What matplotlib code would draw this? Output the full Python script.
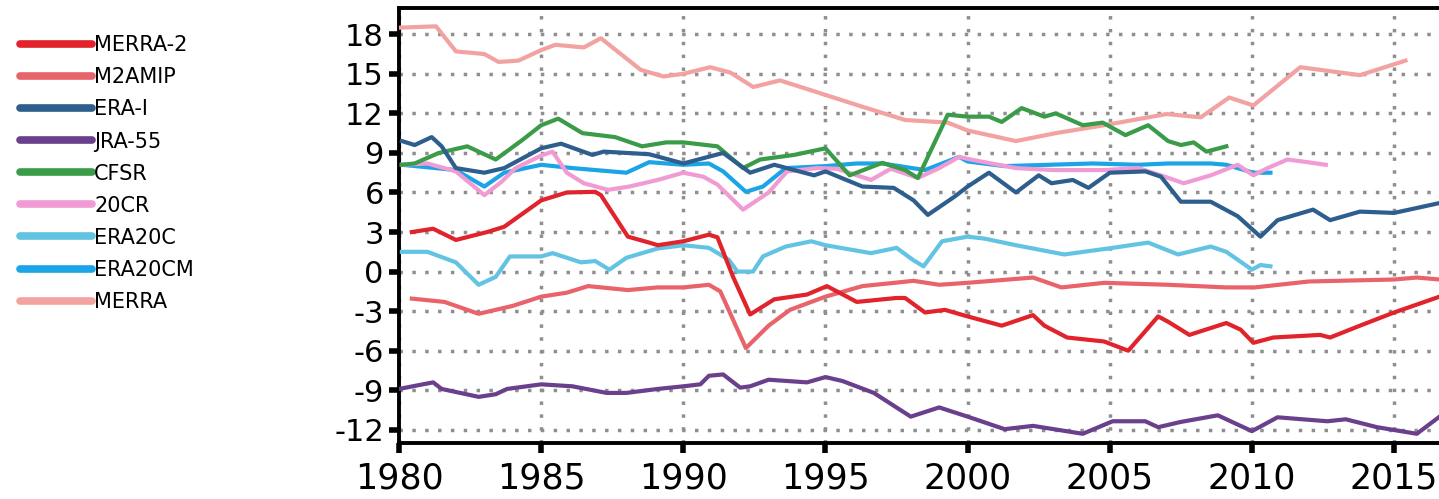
import matplotlib
matplotlib.use("Agg")
import matplotlib.pyplot as plt
from matplotlib.lines import Line2D

# ---------------- data ----------------
merra2_x = [1980.45, 1981.2, 1982.0, 1983.1, 1983.7, 1985.0, 1985.9, 1986.9, 1987.1, 1988.05, 1988.8, 1989.1, 1990.0,
            1990.9, 1991.2, 1991.75, 1992.35, 1993.2, 1994.35, 1995.05, 1996.1, 1997.5, 1997.8, 1998.5, 1999.2, 2000.0,
            2001.2, 2002.3, 2002.7, 2003.5, 2004.8, 2005.65, 2006.7, 2007.05, 2007.8, 2009.1, 2009.6, 2010.05, 2010.75,
            2012.4, 2012.75, 2013.8, 2015.0, 2016.6]
merra2_y = [3.0, 3.25, 2.4, 3.0, 3.4, 5.4, 6.0, 6.05, 5.8, 2.65, 2.2, 2.0, 2.3,
            2.8, 2.6, -0.4, -3.25, -2.1, -1.74, -1.1, -2.3, -2.0, -2.0, -3.1, -2.9, -3.4,
            -4.1, -3.3, -4.1, -5.0, -5.3, -6.0, -3.4, -3.8, -4.8, -3.9, -4.4, -5.4, -5.0,
            -4.8, -5.0, -4.1, -3.1, -1.9]

m2amip_x = [1980.45, 1981.6, 1982.8, 1984.0, 1985.0, 1985.9, 1986.65, 1988.05, 1989.1, 1990.0, 1990.9, 1991.3,
            1992.2, 1993.0, 1993.75, 1995.0, 1996.3, 1998.1, 1999.0, 2000.0, 2002.3, 2003.3, 2004.8, 2007.05,
            2009.1, 2010.1, 2012.0, 2015.0, 2015.8, 2016.6]
m2amip_y = [-2.05, -2.3, -3.2, -2.6, -1.9, -1.6, -1.1, -1.4, -1.2, -1.2, -1.0, -1.5,
            -5.8, -4.1, -2.9, -1.9, -1.1, -0.7, -1.0, -0.85, -0.45, -1.2, -0.85, -1.0,
            -1.2, -1.2, -0.75, -0.6, -0.45, -0.6]

erai_x = [1980.1, 1980.55, 1981.15, 1981.5, 1982.0, 1983.0, 1983.7, 1985.0, 1985.7, 1986.8, 1987.2, 1988.0, 1988.8,
          1990.0, 1991.4, 1992.35, 1993.2, 1994.6, 1995.0, 1996.3, 1997.4, 1998.1, 1998.6, 1999.55, 2000.0,
          2000.75, 2001.7, 2002.5, 2002.95, 2003.7, 2004.25, 2005.0, 2006.25, 2006.8, 2007.5, 2008.55, 2009.5,
          2010.3, 2010.9, 2012.15, 2012.75, 2013.8, 2015.0, 2016.6]
erai_y = [9.9, 9.6, 10.2, 9.5, 7.85, 7.5, 7.85, 9.35, 9.7, 8.85, 9.1, 9.0, 8.9,
          8.2, 9.0, 7.5, 8.1, 7.3, 7.6, 6.45, 6.35, 5.4, 4.3, 5.7, 6.45,
          7.5, 6.0, 7.3, 6.7, 6.95, 6.35, 7.5, 7.6, 7.2, 5.3, 5.3, 4.2,
          2.65, 3.9, 4.7, 3.9, 4.55, 4.45, 5.2]

jra55_x = [1980.0, 1981.2, 1981.5, 1982.8, 1983.4, 1983.8, 1985.0, 1986.1, 1987.3, 1988.0, 1989.1, 1990.0, 1990.6,
           1990.9, 1991.4, 1992.0, 1992.35, 1993.0, 1994.35, 1995.0, 1995.6, 1996.7, 1998.0, 1999.0, 2000.0,
           2001.3, 2002.3, 2004.05, 2005.1, 2006.25, 2006.7, 2007.5, 2008.8, 2010.0, 2010.9, 2012.65, 2013.3,
           2014.4, 2015.8, 2016.6]
jra55_y = [-8.9, -8.4, -8.9, -9.5, -9.3, -8.9, -8.55, -8.7, -9.2, -9.2, -8.9, -8.7, -8.55,
           -7.9, -7.8, -8.8, -8.7, -8.2, -8.4, -8.0, -8.3, -9.2, -11.0, -10.3, -11.0,
           -11.95, -11.7, -12.3, -11.35, -11.35, -11.8, -11.4, -10.9, -12.1, -11.05, -11.35, -11.2,
           -11.8, -12.3, -11.0]

cfsr_x = [1980.1, 1980.55, 1981.4, 1982.4, 1983.4, 1984.35, 1985.0, 1985.6, 1986.45, 1987.6, 1988.55, 1989.4,
          1990.0, 1991.2, 1992.1, 1992.7, 1993.9, 1995.0, 1995.85, 1997.0, 1997.8, 1998.25, 1999.3, 2000.0,
          2000.75, 2001.2, 2001.9, 2002.7, 2003.1, 2004.05, 2004.75, 2005.55, 2006.35, 2007.05, 2007.5,
          2007.95, 2008.4, 2009.1]
cfsr_y = [8.1, 8.2, 9.0, 9.5, 8.5, 10.0, 11.1, 11.6, 10.5, 10.2, 9.5, 9.8,
          9.8, 9.5, 7.85, 8.5, 8.85, 9.35, 7.3, 8.25, 7.7, 7.1, 11.9, 11.75,
          11.75, 11.35, 12.4, 11.75, 12.0, 11.1, 11.3, 10.35, 11.1, 9.9, 9.6,
          9.8, 9.1, 9.5]

cr20_x = [1980.1, 1981.0, 1982.0, 1983.0, 1983.6, 1984.1, 1985.0, 1985.4, 1985.9, 1986.5, 1987.35, 1988.1,
          1989.1, 1990.0, 1990.7, 1991.2, 1992.1, 1993.0, 1993.65, 1994.7, 1995.4, 1996.6, 1997.3, 1998.25,
          1999.0, 1999.7, 2000.1, 2001.7, 2003.0, 2004.8, 2006.0, 2006.8, 2007.6, 2008.55, 2009.5, 2010.05,
          2010.55, 2011.25, 2011.95, 2012.6]
cr20_y = [8.1, 8.2, 7.6, 5.8, 6.8, 7.85, 8.8, 9.1, 7.5, 6.7, 6.2, 6.45,
          6.95, 7.5, 7.2, 6.6, 4.7, 6.0, 7.6, 7.85, 7.8, 6.95, 7.8, 7.1,
          7.85, 8.7, 8.5, 7.85, 7.7, 7.7, 7.85, 7.3, 6.7, 7.3, 8.1, 7.3,
          7.85, 8.5, 8.3, 8.1]

era20c_x = [1980.1, 1981.0, 1982.0, 1982.8, 1983.4, 1983.9, 1985.0, 1985.4, 1986.4, 1986.9, 1987.4, 1988.0, 1989.1,
            1990.0, 1990.9, 1991.6, 1991.9, 1992.45, 1992.8, 1993.6, 1994.5, 1995.0, 1996.6, 1997.5, 1998.1,
            1998.45, 1999.1, 2000.0, 2000.6, 2001.7, 2003.4, 2005.1, 2006.35, 2007.4, 2008.55, 2009.1, 2010.0,
            2010.3, 2010.65]
era20c_y = [1.5, 1.5, 0.7, -1.0, -0.4, 1.15, 1.15, 1.4, 0.7, 0.8, 0.15, 1.05, 1.75,
            2.0, 1.8, 0.9, 0.0, 0.0, 1.15, 1.9, 2.3, 2.0, 1.4, 1.8, 0.85,
            0.4, 2.3, 2.65, 2.5, 2.0, 1.3, 1.8, 2.2, 1.3, 1.9, 1.5, 0.15,
            0.5, 0.4]

era20cm_x = [1980.1, 1982.0, 1983.0, 1983.7, 1985.0, 1986.1, 1988.0, 1988.8, 1990.0, 1990.9, 1991.4, 1992.2,
             1992.8, 1993.6, 1995.0, 1996.1, 1997.0, 1998.5, 1999.7, 2000.0, 2001.3, 2002.85, 2004.4, 2006.0,
             2007.05, 2008.55, 2009.1, 2010.05, 2010.65]
era20cm_y = [8.1, 7.7, 6.45, 7.5, 8.1, 7.85, 7.5, 8.3, 8.1, 8.2, 7.6, 6.05,
             6.45, 7.85, 8.0, 8.2, 8.2, 7.7, 8.7, 8.35, 8.0, 8.1, 8.2, 8.1,
             8.2, 8.2, 8.1, 7.5, 7.5]

merra_x = [1980.0, 1981.3, 1982.0, 1983.0, 1983.5, 1984.2, 1985.0, 1985.5, 1986.5, 1987.1, 1987.8, 1988.5,
           1989.3, 1990.0, 1990.94, 1991.65, 1992.46, 1993.4, 1995.0, 1996.3, 1997.8, 1999.3, 2000.0, 2001.7,
           2003.1, 2004.8, 2007.0, 2008.2, 2009.2, 2010.05, 2011.7, 2013.8, 2015.4]
merra_y = [18.5, 18.6, 16.7, 16.5, 15.9, 16.0, 16.8, 17.2, 17.0, 17.7, 16.5, 15.3,
           14.8, 15.0, 15.5, 15.1, 14.0, 14.5, 13.4, 12.5, 11.5, 11.3, 10.7, 9.9,
           10.5, 11.1, 11.95, 11.7, 13.2, 12.6, 15.5, 14.9, 16.0]

labels = ["MERRA-2", "M2AMIP", "ERA-I", "JRA-55", "CFSR", "20CR", "ERA20C", "ERA20CM", "MERRA"]
colors = ["#e1232b", "#e9636b", "#2d5e8e", "#6a3f8b", "#3a9b48", "#f19bd5", "#63c3e3", "#1ba4e6", "#f2a2a0"]
series = [(merra2_x, merra2_y), (m2amip_x, m2amip_y), (erai_x, erai_y), (jra55_x, jra55_y),
          (cfsr_x, cfsr_y), (cr20_x, cr20_y), (era20c_x, era20c_y), (era20cm_x, era20cm_y),
          (merra_x, merra_y)]

xticks = [1980, 1985, 1990, 1995, 2000, 2005, 2010, 2015]
yticks = [-12, -9, -6, -3, 0, 3, 6, 9, 12, 15, 18]

# ---------------- figure ----------------
fig = plt.figure(figsize=(14.39, 4.99), dpi=100)
ax = fig.add_axes([0.2773, 0.1122, 0.731, 0.872])

draw_order = [8, 6, 7, 5, 4, 2, 1, 0, 3]
for i in draw_order:
    xs, ys = series[i]
    ax.plot(xs, ys, color=colors[i], lw=3.0, solid_joinstyle="round", zorder=3)

ax.set_xlim(1980, 2017)
ax.set_ylim(-13, 20)
ax.set_xticks(xticks)
ax.set_yticks(yticks)
ax.set_xticklabels([str(t) for t in xticks], fontsize=25)
ax.set_yticklabels([str(t) for t in yticks], fontsize=22)
ax.tick_params(axis="both", direction="out", length=7, width=4, color="black", pad=4)
ax.tick_params(axis="x", pad=6)
ax.tick_params(axis="y", right=False)
ax.tick_params(axis="x", top=False)
for s in ax.spines.values():
    s.set_linewidth(2.8)
    s.set_color("black")
ax.spines["right"].set_visible(False)

ax.grid(True, color="#8f8f8f", linestyle=(0, (1, 2.7)), linewidth=2.5, zorder=1)
ax.set_axisbelow(True)

handles = [Line2D([0], [0], color=c, lw=5.5, solid_capstyle="round") for c in colors]
fig.legend(handles, labels, loc="upper left", bbox_to_anchor=(0.008, 0.946), frameon=False,
           fontsize=15, handlelength=3.45, handletextpad=0.12, labelspacing=0.58, borderaxespad=0)

fig.savefig("out.png", dpi=100)
